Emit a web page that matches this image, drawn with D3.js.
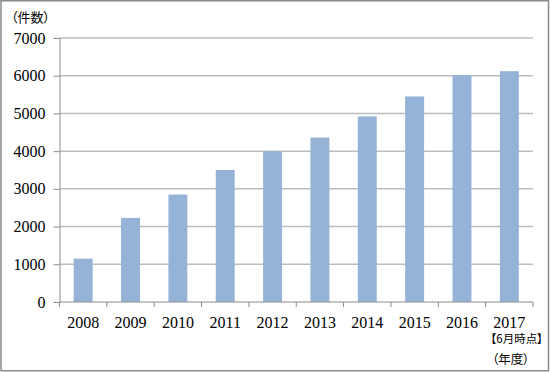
<!DOCTYPE html>
<html><head><meta charset="utf-8">
<script src="https://cdn.jsdelivr.net/npm/d3@7"></script>
<style>html,body{margin:0;padding:0;background:#fff;}svg{display:block;}
.num{font-family:"Liberation Serif","DejaVu Serif",serif;font-size:16px;fill:#000;}
.jp{font-family:"Noto Sans CJK JP",sans-serif;fill:#000;font-feature-settings:"palt" 1;}
</style>
</head><body>
<svg id="c" width="550" height="372"></svg>
<script>
const categories = ["2008","2009","2010","2011","2012","2013","2014","2015","2016","2017"];
const values = [1150, 2230, 2850, 3500, 4000, 4360, 4920, 5450, 6020, 6120];
const yTicks = [0,1000,2000,3000,4000,5000,6000,7000];
const yTitle = "（件数）";
const xTitle = "（年度）";
const lastNote = "【6月時点】";

const svg = d3.select("#c");
const W = 550, H = 372;
const m = {left:59.5, right:533, top:38, bottom:302};

svg.append("rect").attr("x",1).attr("y",0.75).attr("width",W-2.5).attr("height",H-2)
  .attr("fill","#fff").attr("stroke","#8a8a8a").attr("stroke-width",1.5);

const x = d3.scaleBand().domain(categories).range([m.left, m.right]).paddingInner(0.6).paddingOuter(0.3);
const y = d3.scaleLinear().domain([0,7000]).range([m.bottom, m.top]);

// gridlines
svg.append("g").selectAll("line").data(yTicks.filter(d=>d>0)).join("line")
  .attr("x1", m.left).attr("x2", m.right)
  .attr("y1", d=>y(d)).attr("y2", d=>y(d))
  .attr("stroke","#bdbdbd").attr("stroke-width",1.5);

// bars
svg.append("g").selectAll("rect").data(values).join("rect")
  .attr("x",(d,i)=>x(categories[i]))
  .attr("y",d=>y(d))
  .attr("width",x.bandwidth())
  .attr("height",d=>y(0)-y(d))
  .attr("fill","#95b3d7");

// y axis
const yAxis = svg.append("g").attr("transform",`translate(${m.left},0)`)
  .call(d3.axisLeft(y).tickValues(yTicks).tickSize(6).tickPadding(8).tickFormat(d3.format("d")));
yAxis.attr("font-family",null).attr("font-size",null);
yAxis.select(".domain").attr("stroke","#8c8c8c").attr("stroke-width",1);
yAxis.selectAll(".tick line").attr("stroke","#8c8c8c");
yAxis.selectAll("text").attr("class","num").attr("fill",null);

// x axis
const boundaries = d3.range(categories.length+1).map(i=>m.left + i*(m.right-m.left)/categories.length);
const xg = svg.append("g");
xg.append("line").attr("x1",m.left).attr("x2",m.right).attr("y1",m.bottom).attr("y2",m.bottom)
  .attr("stroke","#8c8c8c").attr("stroke-width",1);
xg.selectAll("line.t").data(boundaries).join("line").attr("class","t")
  .attr("x1",d=>d).attr("x2",d=>d).attr("y1",m.bottom).attr("y2",m.bottom+5)
  .attr("stroke","#8c8c8c");
xg.selectAll("text").data(categories).join("text")
  .attr("class","num")
  .attr("x",d=>x(d)+x.bandwidth()/2).attr("y",328)
  .attr("text-anchor","middle").text(d=>d);

// note under last category
svg.append("text").attr("class","jp").attr("x",490.5).attr("y",343)
  .attr("font-size",11.5).text(lastNote);

// titles
svg.append("text").attr("class","jp").attr("x",11).attr("y",22)
  .attr("font-size",13).text(yTitle);
svg.append("text").attr("class","jp").attr("x",492).attr("y",364)
  .attr("font-size",12.5).text(xTitle);
</script>
</body></html>
